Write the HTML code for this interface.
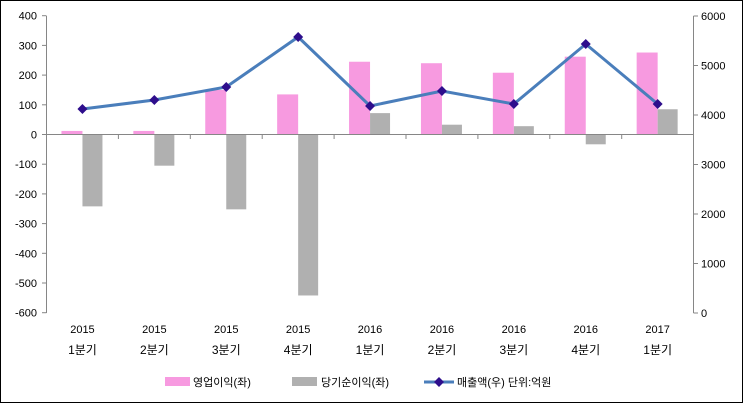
<!DOCTYPE html>
<html><head><meta charset="utf-8"><style>
html,body{margin:0;padding:0;background:#fff}
svg{display:block}
text{font-family:"Liberation Sans","Noto Sans CJK KR",sans-serif;font-size:11px;fill:#000}
</style></head><body>
<svg width="743" height="403" viewBox="0 0 743 403" xmlns="http://www.w3.org/2000/svg">
<rect x="0.5" y="0.5" width="742" height="402" fill="#fff" stroke="#000"/>
<g id="bars"></g>
<g stroke="#868686" stroke-width="1" fill="none">
<line x1="46.5" y1="16" x2="46.5" y2="313"/>
<line x1="693.5" y1="16" x2="693.5" y2="313"/>
<line x1="46" y1="134.5" x2="694" y2="134.5"/>
</g>
<g stroke="#868686" id="ticks"></g>
<g id="labels"></g>
<polyline id="line" fill="none" stroke="#4a7ebb" stroke-width="3"/>
<g id="markers" fill="#2e0e8c"></g>
<g transform="translate(0,382)">
<rect x="165" y="-5" width="25" height="9" fill="#f79ae0"/>
<text x="193" y="4" font-size="12">영업이익(좌)</text>
<rect x="292" y="-5" width="25" height="9" fill="#b0b0b0"/>
<text x="321" y="4" font-size="12">당기순이익(좌)</text>
<line x1="424" y1="0" x2="454" y2="0" stroke="#4a7ebb" stroke-width="3"/>
<path d="M439 -5 L444 0 L439 5 L434 0Z" fill="#2e0e8c"/>
<text x="457" y="4" font-size="12">매출액(우)  단위:억원</text>
</g>
</svg>
<script>
const ns="http://www.w3.org/2000/svg";
function el(t,a,p,txt){const e=document.createElementNS(ns,t);for(const k in a)e.setAttribute(k,a[k]);if(txt!==undefined)e.textContent=txt;document.getElementById(p).appendChild(e);return e;}
const yL=v=>134.5-v*0.297, yR=v=>313-v*297/6000;
const L=46.5,W=71.9;
const pink=[12,12,150,135,245,240,208,262,276];
const gray=[-242,-105,-252,-542,72,33,28,-33,85];
const sales=[4121,4303,4566,5576,4182,4485,4222,5434,4222];
const yrs=["2015","2015","2015","2015","2016","2016","2016","2016","2017"];
const qs=["1분기","2분기","3분기","4분기","1분기","2분기","3분기","4분기","1분기"];
let pts=[];
for(let i=0;i<9;i++){
 const c=L+W*(i+0.5);
 const p=pink[i],g=gray[i];
 el("rect",{x:c-21,y:Math.min(yL(p),134.5),width:21,height:Math.abs(p*0.297),fill:"#f79ae0"},"bars");
 el("rect",{x:c,y:Math.min(yL(g),134.5),width:20,height:Math.abs(g*0.297),fill:"#b0b0b0"},"bars");
 el("text",{x:c,y:333,"text-anchor":"middle"},"labels",yrs[i]);
 el("text",{x:c,y:354,"text-anchor":"middle",style:"font-size:12px"},"labels",qs[i]);
 const x=c,y=yR(sales[i]);pts.push(x+","+y);
 el("path",{d:`M${x} ${y-5} L${x+5} ${y} L${x} ${y+5} L${x-5} ${y}Z`},"markers");
 el("line",{x1:L+W*i,y1:134.5,x2:L+W*i,y2:139},"ticks");
}
el("line",{x1:693.5,y1:134.5,x2:693.5,y2:139},"ticks");
document.getElementById("line").setAttribute("points",pts.join(" "));
for(let v=400;v>=-600;v-=100){const y=yL(v);
 el("line",{x1:42,y1:y,x2:46.5,y2:y},"ticks");
 el("text",{x:37,y:y+4,"text-anchor":"end"},"labels",String(v));}
for(let v=0;v<=6000;v+=1000){const y=yR(v);
 el("line",{x1:693.5,y1:y,x2:698,y2:y},"ticks");
 el("text",{x:701,y:y+4},"labels",String(v));}
</script>
</body></html>
